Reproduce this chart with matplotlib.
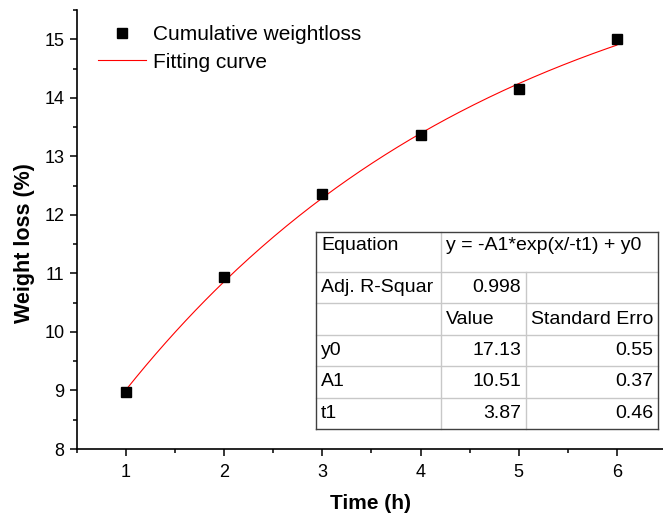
import numpy as np
import matplotlib
matplotlib.use("Agg")
from matplotlib import pyplot as plt
from matplotlib.ticker import MultipleLocator

# data
time_h = [1, 2, 3, 4, 5, 6]
weight_loss = [8.98, 10.94, 12.35, 13.36, 14.15, 15.0]

# fit parameters from the table
fit_names = ["y0", "A1", "t1"]
fit_values = [17.13, 10.51, 3.87]
fit_errors = [0.55, 0.37, 0.46]
adj_r2 = 0.998
equation = "y = -A1*exp(x/-t1) + y0"

plt.rcParams['font.family'] = ['Liberation Sans', 'DejaVu Sans']

W, H = 663, 515
fig = plt.figure(figsize=(W / 100, H / 100), dpi=100)
ax = fig.add_axes([77 / W, 1 - 449 / H, 1 - 77 / W, (449 - 10) / H])

y0, a1, t1 = fit_values
xf = np.linspace(time_h[0], time_h[-1], 200)
yf = -a1 * np.exp(xf / -t1) + y0

ax.plot(time_h, weight_loss, 's', color='black', markersize=7.2, label='Cumulative weightloss', zorder=3)
ax.plot(xf, yf, '-', color='red', lw=0.8, label='Fitting curve')

ax.set_xlim(0.5, 6.47)
ax.set_ylim(8, 15.5)
ax.xaxis.set_major_locator(MultipleLocator(1))
ax.xaxis.set_minor_locator(MultipleLocator(0.5))
ax.yaxis.set_major_locator(MultipleLocator(1))
ax.yaxis.set_minor_locator(MultipleLocator(0.5))
for s in ['top', 'right']:
    ax.spines[s].set_visible(False)
for s in ['left', 'bottom']:
    ax.spines[s].set_linewidth(1.2)
ax.tick_params(which='major', direction='out', length=5, width=1.1, labelsize=13)
ax.tick_params(axis='x', which='major', pad=6)
ax.tick_params(axis='y', which='major', pad=4)
ax.tick_params(which='minor', direction='out', length=3, width=1.1)

ax.set_xlabel('Time (h)', fontsize=15, fontweight='bold')
ax.set_ylabel('Weight loss (%)', fontsize=15.5, fontweight='bold')
ax.xaxis.set_label_coords(0.5, -0.102)
ax.yaxis.set_label_coords(-0.072, 0.47)

leg = ax.legend(loc='upper left', bbox_to_anchor=(0.036, 0.965), frameon=False,
                fontsize=15, handlelength=2.3, handletextpad=0.35, labelspacing=0.4,
                borderpad=0, borderaxespad=0)

# table drawn in pixel positions
def fx(px):
    return px / W

def fy(py):
    return 1 - py / H

col = [316, 441, 526, 658]
row = [232, 272, 303.4, 334.8, 366.2, 397.6, 429]
light = '#c8c8c8'
dark = '#404040'

def hline(py, x0, x1, c, lw=1):
    fig.add_artist(plt.Line2D([fx(x0), fx(x1)], [fy(py), fy(py)], color=c, lw=lw))

def vline(px, y0_, y1_, c, lw=1):
    fig.add_artist(plt.Line2D([fx(px), fx(px)], [fy(y0_), fy(y1_)], color=c, lw=lw))

fig.add_artist(plt.Rectangle((fx(col[0]), fy(row[-1])), fx(col[3]) - fx(col[0]),
                             fy(row[0]) - fy(row[-1]), facecolor='white', edgecolor='none'))
for r in row[1:-1]:
    hline(r, col[0], col[3], light)
vline(col[1], row[0], row[-1], light)
vline(col[2], row[1], row[-1], light)
hline(row[0], col[0], col[3], dark)
hline(row[-1], col[0], col[3], dark)
vline(col[0], row[0], row[-1], dark)
vline(col[3], row[0], row[-1], dark)

fs = 14
pad = 5
def cell(text, r, c, align='left', top=False):
    if align == 'left':
        x = col[c] + pad
    else:
        x = col[c + 1] - pad
    if top:
        y = row[r] + 14
    else:
        y = (row[r] + row[r + 1]) / 2
    fig.text(fx(x), fy(y), text, fontsize=fs, ha=align, va='center')

cell('Equation', 0, 0, top=True)
cell(equation, 0, 1, top=True)
cell('Adj. R-Squar', 1, 0)
cell(f'{adj_r2:.3f}', 1, 1, 'right')
cell('Value', 2, 1)
cell('Standard Erro', 2, 2)
for i in range(3):
    cell(fit_names[i], 3 + i, 0)
    cell(f'{fit_values[i]:.2f}', 3 + i, 1, 'right')
    cell(f'{fit_errors[i]:.2f}', 3 + i, 2, 'right')

fig.savefig('out.png', dpi=100)
